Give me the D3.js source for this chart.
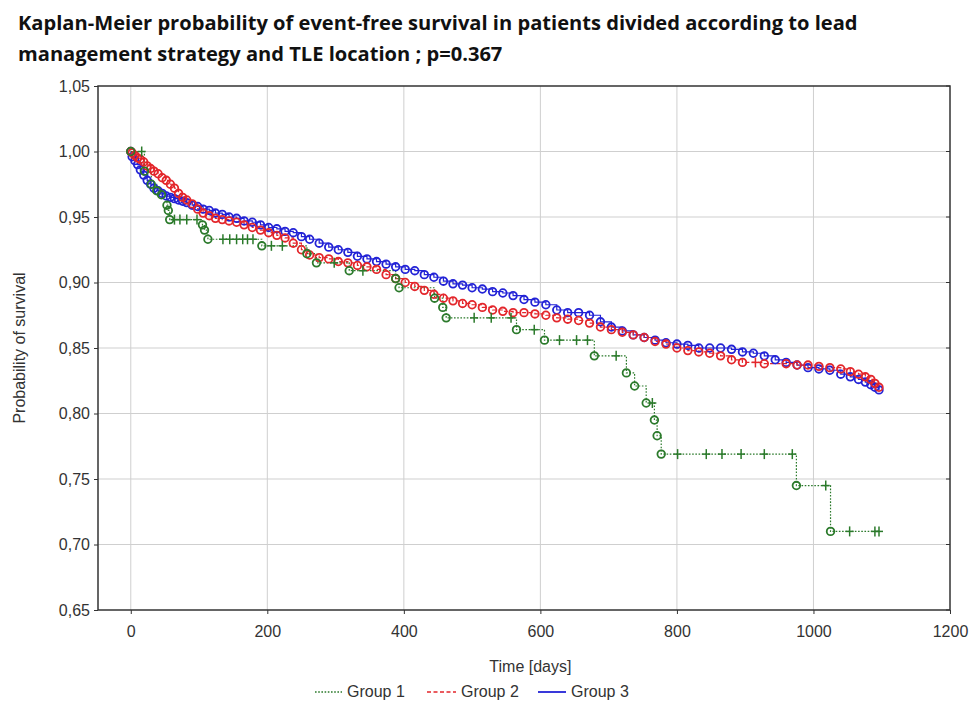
<!DOCTYPE html>
<html>
<head>
<meta charset="utf-8">
<script src="https://cdn.jsdelivr.net/npm/d3@7"></script>
<style>
  html, body { margin: 0; padding: 0; background: #ffffff; }
  svg { display: block; }
</style>
</head>
<body>
<svg id="chart" width="971" height="711"></svg>
<script>
// ---------------- DATA ----------------
const titleLines = [
  "Kaplan-Meier probability of event-free survival in patients divided according to lead",
  "management strategy and TLE location ; p=0.367"
];
const xTicks = [0, 200, 400, 600, 800, 1000, 1200];
const yTicks = [0.65, 0.70, 0.75, 0.80, 0.85, 0.90, 0.95, 1.00, 1.05];
const xLabel = "Time [days]";
const yLabel = "Probability of survival";
const groupNames = ["Group 1", "Group 2", "Group 3"];

// Group 1: event times (days) and survival after each event
const g1EventDays = [20, 30, 38, 45, 53, 55, 57, 105, 108, 113, 192, 258, 272, 320, 388, 393, 445, 457, 462, 565, 606, 679, 726, 738, 755, 767, 771, 777, 975, 1025];
const g1EventSurv = [0.985, 0.975, 0.970, 0.967, 0.959, 0.955, 0.948, 0.944, 0.940, 0.933, 0.928, 0.922, 0.915, 0.909, 0.903, 0.896, 0.888, 0.881, 0.873, 0.864, 0.856, 0.844, 0.831, 0.821, 0.808, 0.795, 0.783, 0.769, 0.745, 0.710];
// Group 1: censored observations
const g1CensorDays = [16, 64, 72, 82, 97, 135, 145, 155, 164, 171, 179, 206, 222, 298, 340, 503, 528, 557, 591, 628, 653, 669, 711, 764, 801, 843, 866, 894, 928, 969, 1018, 1053, 1090, 1096];
const g1CensorSurv = [1.000, 0.948, 0.948, 0.948, 0.948, 0.933, 0.933, 0.933, 0.933, 0.933, 0.933, 0.928, 0.928, 0.915, 0.909, 0.873, 0.873, 0.873, 0.864, 0.856, 0.856, 0.856, 0.844, 0.808, 0.769, 0.769, 0.769, 0.769, 0.769, 0.769, 0.745, 0.710, 0.710, 0.710];

// Group 2
const g2EventDays = [2, 6, 10, 14, 19, 24, 29, 34, 40, 46, 52, 58, 64, 70, 76, 82, 90, 98, 106, 115, 124, 134, 144, 155, 166, 178, 190, 202, 214, 226, 238, 250, 262, 276, 290, 304, 318, 332, 346, 360, 374, 388, 402, 416, 430, 444, 458, 472, 486, 500, 515, 530, 545, 560, 576, 592, 608, 624, 640, 656, 672, 688, 704, 720, 736, 752, 768, 784, 800, 816, 832, 848, 864, 880, 896, 928, 960, 976, 992, 1008, 1024, 1040, 1054, 1066, 1076, 1084, 1090, 1096];
const g2EventSurv = [0.999, 0.997, 0.995, 0.994, 0.992, 0.989, 0.987, 0.985, 0.983, 0.980, 0.978, 0.975, 0.972, 0.968, 0.965, 0.963, 0.960, 0.956, 0.953, 0.951, 0.949, 0.948, 0.947, 0.946, 0.944, 0.942, 0.940, 0.938, 0.936, 0.934, 0.930, 0.925, 0.921, 0.919, 0.918, 0.916, 0.915, 0.913, 0.912, 0.910, 0.906, 0.903, 0.900, 0.897, 0.894, 0.891, 0.888, 0.886, 0.884, 0.883, 0.881, 0.879, 0.878, 0.877, 0.877, 0.876, 0.875, 0.873, 0.872, 0.871, 0.869, 0.866, 0.864, 0.862, 0.860, 0.858, 0.855, 0.853, 0.850, 0.848, 0.847, 0.846, 0.844, 0.841, 0.839, 0.838, 0.838, 0.837, 0.837, 0.836, 0.835, 0.834, 0.832, 0.830, 0.828, 0.826, 0.823, 0.820];
const g2CensorDays = [915];
const g2CensorSurv = [0.839];

// Group 3
const g3EventDays = [2, 6, 10, 14, 19, 24, 29, 34, 40, 46, 52, 58, 64, 70, 76, 82, 90, 98, 106, 115, 124, 134, 144, 155, 166, 178, 190, 202, 214, 226, 238, 250, 262, 276, 290, 304, 318, 332, 346, 360, 374, 388, 402, 416, 430, 444, 458, 472, 486, 500, 515, 530, 545, 560, 576, 592, 608, 624, 640, 656, 672, 688, 704, 720, 736, 752, 768, 784, 800, 816, 832, 848, 864, 880, 896, 912, 928, 944, 960, 976, 992, 1008, 1024, 1040, 1054, 1066, 1076, 1084, 1090, 1096];
const g3EventSurv = [0.996, 0.993, 0.990, 0.986, 0.982, 0.978, 0.975, 0.972, 0.970, 0.968, 0.966, 0.965, 0.964, 0.963, 0.962, 0.961, 0.959, 0.958, 0.956, 0.955, 0.953, 0.952, 0.950, 0.949, 0.947, 0.946, 0.944, 0.942, 0.941, 0.939, 0.938, 0.935, 0.933, 0.930, 0.927, 0.925, 0.923, 0.920, 0.918, 0.916, 0.914, 0.912, 0.910, 0.909, 0.906, 0.904, 0.901, 0.899, 0.898, 0.896, 0.895, 0.893, 0.892, 0.890, 0.887, 0.885, 0.883, 0.879, 0.877, 0.877, 0.875, 0.870, 0.866, 0.863, 0.860, 0.858, 0.856, 0.854, 0.853, 0.852, 0.850, 0.850, 0.850, 0.849, 0.847, 0.846, 0.844, 0.841, 0.839, 0.837, 0.835, 0.834, 0.833, 0.830, 0.828, 0.826, 0.824, 0.822, 0.820, 0.818];
const g3CensorDays = [];
const g3CensorSurv = [];

const groupColors = ["#2b7a2b", "#e3262b", "#2323d6"];
const groupDash = ["1.6,1.6", "4,2.5", null];

// ---------------- LAYOUT ----------------
const svg = d3.select("#chart");
const frame = { left: 98, right: 950, top: 86, bottom: 610 };

const x = d3.scaleLinear().domain([-48, 1200]).range([frame.left, frame.right]);
const y = d3.scaleLinear().domain([0.65, 1.05]).range([frame.bottom, frame.top]);

const locale = d3.formatLocale({ decimal: ",", thousands: "", grouping: [3], currency: ["", ""] });
const fmtY = locale.format(".2f");
const fmtX = d3.format("d");

// Title (condensed horizontally to mimic a narrow bold face)
const titleFont = "'Open Sans', 'Liberation Sans', sans-serif";
const titleG = svg.append("g");
const t1 = titleG.append("text")
  .attr("x", 0).attr("y", 0)
  .attr("font-family", titleFont)
  .attr("font-weight", "bold").attr("font-size", 20).attr("fill", "#111")
  .text(titleLines[0]);
const w = t1.node().getComputedTextLength();
const sx = 840 / w;
t1.attr("transform", `translate(18,30) scale(${sx},1)`);
titleG.append("text")
  .attr("transform", `translate(18,61) scale(${sx},1)`)
  .attr("font-family", titleFont)
  .attr("font-weight", "bold").attr("font-size", 20).attr("fill", "#111")
  .text(titleLines[1]);

// Grid
const grid = svg.append("g");
grid.selectAll("line.gx").data(xTicks.filter(d => d < 1200)).join("line")
  .attr("x1", d => x(d)).attr("x2", d => x(d))
  .attr("y1", frame.top).attr("y2", frame.bottom)
  .attr("stroke", "#cfcfcf").attr("stroke-width", 1);
grid.selectAll("line.gy").data(yTicks.filter(d => d > 0.65 && d < 1.05)).join("line")
  .attr("x1", frame.left).attr("x2", frame.right)
  .attr("y1", d => y(d)).attr("y2", d => y(d))
  .attr("stroke", "#cfcfcf").attr("stroke-width", 1);

// Axes
const xAxis = d3.axisBottom(x).tickValues(xTicks).tickFormat(fmtX).tickSize(4).tickSizeOuter(0).tickPadding(12);
const yAxis = d3.axisLeft(y).tickValues(yTicks).tickFormat(fmtY).tickSize(4).tickSizeOuter(0).tickPadding(4);

const gx = svg.append("g").attr("transform", `translate(0,${frame.bottom})`).call(xAxis);
const gy = svg.append("g").attr("transform", `translate(${frame.left},0)`).call(yAxis);
[gx, gy].forEach(g => {
  g.select(".domain").remove();
  g.selectAll(".tick line").attr("stroke", "#333");
  g.selectAll(".tick text").attr("font-family", "'Liberation Sans', Arial, sans-serif")
    .attr("font-size", 16).attr("fill", "#333");
});
// inner tick marks on right side
svg.append("g").selectAll("line").data(yTicks).join("line")
  .attr("x1", frame.right - 4).attr("x2", frame.right)
  .attr("y1", d => y(d)).attr("y2", d => y(d)).attr("stroke", "#333");

// Frame
svg.append("rect")
  .attr("x", frame.left).attr("y", frame.top)
  .attr("width", frame.right - frame.left).attr("height", frame.bottom - frame.top)
  .attr("fill", "none").attr("stroke", "#333").attr("stroke-width", 1.5);

// Axis labels
svg.append("text")
  .attr("x", (x(0) + x(1200)) / 2 - 10).attr("y", 672)
  .attr("text-anchor", "middle")
  .attr("font-family", "'Liberation Sans', Arial, sans-serif")
  .attr("font-size", 16).attr("fill", "#333").text(xLabel);
svg.append("text")
  .attr("transform", `translate(25,${(frame.top + frame.bottom) / 2}) rotate(-90)`)
  .attr("text-anchor", "middle")
  .attr("font-family", "'Liberation Sans', Arial, sans-serif")
  .attr("font-size", 16).attr("fill", "#333").text(yLabel);

// ---------------- CURVES ----------------
const groups = [
  { ed: g1EventDays, es: g1EventSurv, cd: g1CensorDays, cs: g1CensorSurv, end: 1096 },
  { ed: g2EventDays, es: g2EventSurv, cd: g2CensorDays, cs: g2CensorSurv, end: 1096 },
  { ed: g3EventDays, es: g3EventSurv, cd: g3CensorDays, cs: g3CensorSurv, end: 1096 }
];

const line = d3.line().x(d => x(d[0])).y(d => y(d[1])).curve(d3.curveStepAfter);
const plot = svg.append("g");
const drawOrder = [2, 1, 0];

drawOrder.forEach(i => {
  const g = groups[i];
  const pts = [[0, 1]];
  g.ed.forEach((t, k) => pts.push([t, g.es[k]]));
  const last = g.es[g.es.length - 1];
  if (g.end > g.ed[g.ed.length - 1]) pts.push([g.end, last]);
  const p = plot.append("path").attr("d", line(pts))
    .attr("fill", "none").attr("stroke", groupColors[i]).attr("stroke-width", 1.2);
  if (groupDash[i]) p.attr("stroke-dasharray", groupDash[i]);
});
drawOrder.forEach(i => {
  const g = groups[i];
  const evs = g.ed.map((t, k) => [t, g.es[k]]);
  evs.unshift([0, 1]);
  plot.append("g").selectAll("circle").data(evs).join("circle")
    .attr("cx", d => x(d[0])).attr("cy", d => y(d[1])).attr("r", 3.8)
    .attr("fill", "none").attr("stroke", groupColors[i]).attr("stroke-width", 1.8);
  const cens = g.cd.map((t, k) => [t, g.cs[k]]);
  const cg = plot.append("g").selectAll("g").data(cens).join("g")
    .attr("transform", d => `translate(${x(d[0])},${y(d[1])})`);
  cg.append("line").attr("x1", 0).attr("x2", 0).attr("y1", -5).attr("y2", 5)
    .attr("stroke", groupColors[i]).attr("stroke-width", 1.5);
  cg.append("line").attr("x1", -4).attr("x2", 4).attr("y1", 0).attr("y2", 0)
    .attr("stroke", groupColors[i]).attr("stroke-width", 1.5);
});

// ---------------- LEGEND ----------------
const legend = svg.append("g").attr("transform", "translate(0,697)");
const legendItems = [
  { x1: 315, x2: 342, tx: 347 },
  { x1: 427, x2: 456, tx: 461 },
  { x1: 538, x2: 566, tx: 571 }
];
legendItems.forEach((it, i) => {
  const l = legend.append("line").attr("x1", it.x1).attr("x2", it.x2)
    .attr("y1", -5).attr("y2", -5)
    .attr("stroke", groupColors[i]).attr("stroke-width", i === 2 ? 1.8 : 1.4);
  if (groupDash[i]) l.attr("stroke-dasharray", groupDash[i]);
  legend.append("text").attr("x", it.tx).attr("y", 0)
    .attr("font-family", "'Liberation Sans', Arial, sans-serif")
    .attr("font-size", 16).attr("fill", "#333").text(groupNames[i]);
});
</script>
</body>
</html>
